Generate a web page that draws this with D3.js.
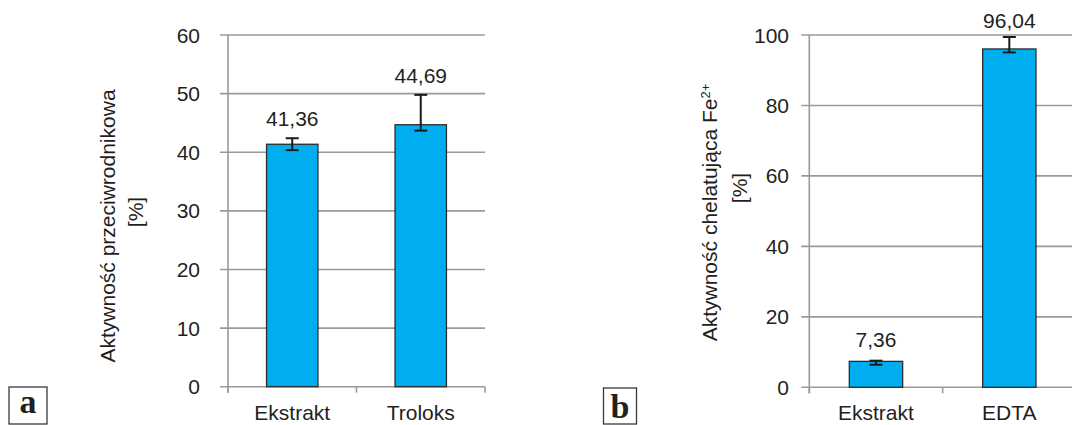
<!DOCTYPE html>
<html lang="pl">
<head>
<meta charset="utf-8">
<script src="https://cdn.jsdelivr.net/npm/d3@7"></script>
<style>
  html, body { margin: 0; padding: 0; background: #fff; }
  svg { display: block; }
  text { font-family: "Liberation Sans", Arial, Helvetica, sans-serif; fill: #231f20; }
  text.letter { font-family: "Liberation Serif", "Times New Roman", serif; font-weight: bold; }
</style>
</head>
<body>
<svg id="chart" width="1072" height="425"></svg>
<script>
// Panel a: antiradical activity
const categoriesA = ["Ekstrakt", "Troloks"];
const valuesA = [41.36, 44.69];
const errLowA = [1.0, 1.0];
const errHighA = [1.03, 5.1];
const ticksA = [0, 10, 20, 30, 40, 50, 60];

// Panel b: Fe2+ chelating activity
const categoriesB = ["Ekstrakt", "EDTA"];
const valuesB = [7.36, 96.04];
const errLowB = [0.95, 0.98];
const errHighB = [0.2, 3.4];
const ticksB = [0, 20, 40, 60, 80, 100];

const svg = d3.select("#chart");
const locale = d3.formatLocale({ decimal: ",", thousands: " ", grouping: [3], currency: ["", " zł"] });
const fmt = locale.format(".2f");

const BAR = "#00aeef";
const GRID = "#9a9a9a";

function panel(opt) {
  const g = svg.append("g");
  const x = d3.scaleBand()
    .domain(opt.categories)
    .range([opt.x0, opt.x1])
    .paddingInner(0.6)
    .paddingOuter(0.3);
  const y = d3.scaleLinear().domain([0, d3.max(opt.ticks)]).range([opt.y0, opt.y1]);

  // horizontal gridlines with left tick stubs
  g.append("g").selectAll("line").data(opt.ticks).join("line")
    .attr("x1", opt.x0 - 8).attr("x2", opt.gridEnd)
    .attr("y1", d => y(d)).attr("y2", d => y(d))
    .attr("stroke", GRID).attr("stroke-width", 1.6);

  // value axis labels
  g.append("g").selectAll("text").data(opt.ticks).join("text")
    .attr("x", opt.labelEnd).attr("y", d => y(d))
    .attr("dy", "0.36em")
    .attr("text-anchor", "end")
    .attr("font-size", 21)
    .text(d => d);

  // vertical axis line
  g.append("line")
    .attr("x1", opt.x0).attr("x2", opt.x0)
    .attr("y1", y(d3.max(opt.ticks))).attr("y2", opt.y0 + 6)
    .attr("stroke", GRID).attr("stroke-width", 1.6);

  // category boundary ticks below the baseline
  const step = x.step();
  const bounds = d3.range(opt.categories.length + 1).map(i => opt.x0 + i * step);
  g.append("g").selectAll("line").data(bounds).join("line")
    .attr("x1", d => d).attr("x2", d => d)
    .attr("y1", opt.y0).attr("y2", opt.y0 + 6)
    .attr("stroke", GRID).attr("stroke-width", 1.6);

  // bars
  g.append("g").selectAll("rect").data(opt.values).join("rect")
    .attr("x", (d, i) => x(opt.categories[i]))
    .attr("y", d => y(d))
    .attr("width", x.bandwidth())
    .attr("height", d => y(0) - y(d))
    .attr("fill", BAR)
    .attr("stroke", "#2b2b2b")
    .attr("stroke-width", 1.3);

  // error bars
  const eb = g.append("g").attr("stroke", "#1a1a1a").attr("stroke-width", 2);
  opt.values.forEach((v, i) => {
    const cx = x(opt.categories[i]) + x.bandwidth() / 2;
    const top = y(v + opt.errHigh[i]);
    const bot = y(v - opt.errLow[i]);
    eb.append("line").attr("x1", cx).attr("x2", cx).attr("y1", top).attr("y2", bot);
    eb.append("line").attr("x1", cx - 6.5).attr("x2", cx + 6.5).attr("y1", top).attr("y2", top);
    eb.append("line").attr("x1", cx - 6.5).attr("x2", cx + 6.5).attr("y1", bot).attr("y2", bot);
  });

  // value labels above the error bars
  g.append("g").selectAll("text").data(opt.values).join("text")
    .attr("x", (d, i) => x(opt.categories[i]) + x.bandwidth() / 2)
    .attr("y", (d, i) => y(d + opt.errHigh[i]) - opt.labelGap[i])
    .attr("text-anchor", "middle")
    .attr("font-size", 21)
    .text(d => fmt(d));

  // category labels
  g.append("g").selectAll("text").data(opt.categories).join("text")
    .attr("x", d => x(d) + x.bandwidth() / 2)
    .attr("y", opt.catBaseline)
    .attr("text-anchor", "middle")
    .attr("font-size", 21)
    .text(d => d);

  // axis title, two rotated lines
  const t1 = g.append("text")
    .attr("transform", `translate(${opt.title1[0]},${opt.title1[1]}) rotate(-90)`)
    .attr("text-anchor", "middle")
    .attr("font-size", 21)
    .text(opt.titleText);
  if (opt.titleSup) {
    t1.append("tspan").attr("font-size", 13).attr("dy", -7).text(opt.titleSup);
  }
  g.append("text")
    .attr("transform", `translate(${opt.title2[0]},${opt.title2[1]}) rotate(-90)`)
    .attr("text-anchor", "middle")
    .attr("font-size", 21)
    .text("[%]");

  // panel letter in a framed box
  g.append("rect")
    .attr("x", opt.box[0]).attr("y", opt.box[1])
    .attr("width", opt.box[2]).attr("height", opt.box[3])
    .attr("fill", "none").attr("stroke", "#3a3a3a").attr("stroke-width", 1.3);
  g.append("text")
    .attr("class", "letter")
    .attr("x", opt.box[0] + opt.box[2] / 2)
    .attr("y", opt.letterBaseline)
    .attr("text-anchor", "middle")
    .attr("font-size", 34)
    .text(opt.letter);
}

panel({
  categories: categoriesA, values: valuesA, errLow: errLowA, errHigh: errHighA, ticks: ticksA,
  x0: 228, x1: 485, y0: 386.7, y1: 35, gridEnd: 485, labelEnd: 200,
  labelGap: [12, 12], catBaseline: 420,
  titleText: "Aktywność przeciwrodnikowa", titleSup: null,
  title1: [115, 226], title2: [143, 212],
  box: [9, 387, 38, 37], letter: "a", letterBaseline: 413
});

panel({
  categories: categoriesB, values: valuesB, errLow: errLowB, errHigh: errHighB, ticks: ticksB,
  x0: 809.3, x1: 1076, y0: 387.3, y1: 35, gridEnd: 1076, labelEnd: 789,
  labelGap: [14, 9], catBaseline: 420,
  titleText: "Aktywność chelatująca Fe", titleSup: "2+",
  title1: [716.5, 212.5], title2: [747, 188],
  box: [603.5, 388, 33, 36], letter: "b", letterBaseline: 418
});
</script>
</body>
</html>
